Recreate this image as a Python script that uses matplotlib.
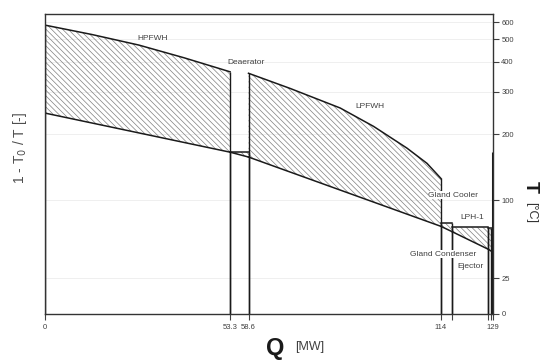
import numpy as np
import matplotlib.pyplot as plt

plt.rcParams['font.family'] = ['Liberation Sans', 'DejaVu Sans']
plt.rcParams['hatch.linewidth'] = 0.5

# ambient temperature for the Carnot factor
T0 = 273.15

def carnot(t):
    return 1 - T0 / (np.asarray(t, dtype=float) + T0)

# HPFWH (hot side: extraction steam, cold side: feedwater)
hp_q_hot = [0, 13.5, 27.0, 40.0, 53.3]
hp_t_hot = [580, 525, 471, 415, 362]
hp_q_cold = [0, 53.3]
hp_t_cold = [245, 168]

# Deaerator
da_q = [53.3, 58.6]
da_t_hot = [168, 168]
da_t_cold = [168, 160]

# LPFWH
lp_q_hot = [58.6, 70.6, 85.0, 94.6, 104.2, 110.0, 114.0]
lp_t_hot = [357, 309, 257, 216, 175, 150, 128]
lp_q_cold = [58.6, 114.0]
lp_t_cold = [160, 71]

# Gland cooler
gc_q = [114.0, 117.3]
gc_t_hot = [74, 74]
gc_t_cold = [71, 65.5]

# LPH-1
lph_q = [117.3, 127.7]
lph_t_hot = [70, 70]
lph_t_cold = [65.5, 49]

# Gland condenser / ejector
ej_q = [127.7, 128.4, 129.0]
ej_t_hot = [69, 69, 69]
ej_t_cold = [49, 47.6, 46.5]
ej_t_motive = 168

x_ticks = [0, 53.3, 58.6, 114, 117.3, 127.7, 128.4, 129]
x_tick_labels = ['0', '53.3', '58.6', '114', '', '', '', '129']
t_ticks = [0, 25, 100, 200, 300, 400, 500, 600]

fig = plt.figure(figsize=(5.42, 3.61), dpi=100)
ax = fig.add_axes([0.083, 0.1302, 0.8266, 0.831])

ax.set_xlim(0, 129)
ax.set_ylim(0, 0.706)

# faint grid at the temperature ticks
for t in t_ticks[1:]:
    ax.axhline(carnot(t), color='0.93', lw=0.6, zorder=0)

def stage(q_hot, t_hot, q_cold, t_cold):
    ch = carnot(t_hot)
    cc = carnot(t_cold)
    ax.fill(np.r_[q_hot, q_cold[::-1]], np.r_[ch, cc[::-1]],
            facecolor='none', edgecolor='0.5', hatch='\\' * 6, linewidth=0)
    ax.plot(q_hot, ch, color='0.1', lw=1.1)
    ax.plot(q_cold, cc, color='0.1', lw=1.1)
    # vertical boundaries from the axis up to the hot side
    ax.vlines([q_hot[0], q_hot[-1]], 0, [ch[0], ch[-1]], color='0.1', lw=1.0)

stage(hp_q_hot, hp_t_hot, hp_q_cold, hp_t_cold)
stage(da_q, da_t_hot, da_q, da_t_cold)
stage(lp_q_hot, lp_t_hot, lp_q_cold, lp_t_cold)
stage(gc_q, gc_t_hot, gc_q, gc_t_cold)
stage(lph_q, lph_t_hot, lph_q, lph_t_cold)
stage(ej_q, ej_t_hot, ej_q, ej_t_cold)
ax.vlines(ej_q[1], 0, carnot(ej_t_hot[1]), color='0.1', lw=1.0)
ax.vlines(ej_q[-1], 0, carnot(ej_t_motive), color='0.1', lw=2.2)

# stage labels
lab = dict(fontsize=6, color='0.25', ha='center', va='center')
box = dict(facecolor='white', edgecolor='none', pad=0.3)
ax.text(31.1, 0.649, 'HPFWH', **lab)
ax.text(57.9, 0.593, 'Deaerator', **lab)
ax.text(93.6, 0.489, 'LPFWH', **lab)
ax.text(117.5, 0.280, 'Gland Cooler', bbox=box, **lab)
ax.text(123.0, 0.226, 'LPH-1', **lab)
ax.text(114.6, 0.141, 'Gland Condenser', bbox=box, **lab)
ax.text(122.4, 0.111, 'Ejector', bbox=box, **lab)

# axes styling
for s in ax.spines.values():
    s.set_color('0.2')
    s.set_linewidth(1.0)
ax.set_xticks(x_ticks)
ax.set_xticklabels(x_tick_labels)
ax.tick_params(axis='x', length=4, width=0.8, labelsize=5.5, colors='0.25', pad=3)
ax.yaxis.tick_right()
ax.set_yticks(carnot(t_ticks))
ax.set_yticklabels([str(t) for t in t_ticks])
ax.tick_params(axis='y', length=4, width=0.8, labelsize=5.5, colors='0.25', pad=2)

fig.text(20 / 542, 1 - 148 / 361, '1 - T$_0$ / T [-]', rotation=90,
         ha='center', va='center', fontsize=10, color='0.3')
fig.text(530 / 542, 1 - 187 / 361, 'T', rotation=270, ha='center', va='center',
         fontsize=14, fontweight='bold', color='0.1')
fig.text(531 / 542, 1 - 212 / 361, '[°C]', rotation=270, ha='center', va='center',
         fontsize=9, color='0.2')
fig.text(275 / 542, 1 - 348 / 361, 'Q', ha='center', va='center',
         fontsize=17, fontweight='bold', color='0.1')
fig.text(310 / 542, 1 - 347 / 361, '[MW]', ha='center', va='center',
         fontsize=9, color='0.25')

fig.savefig('out.png', dpi=100)
